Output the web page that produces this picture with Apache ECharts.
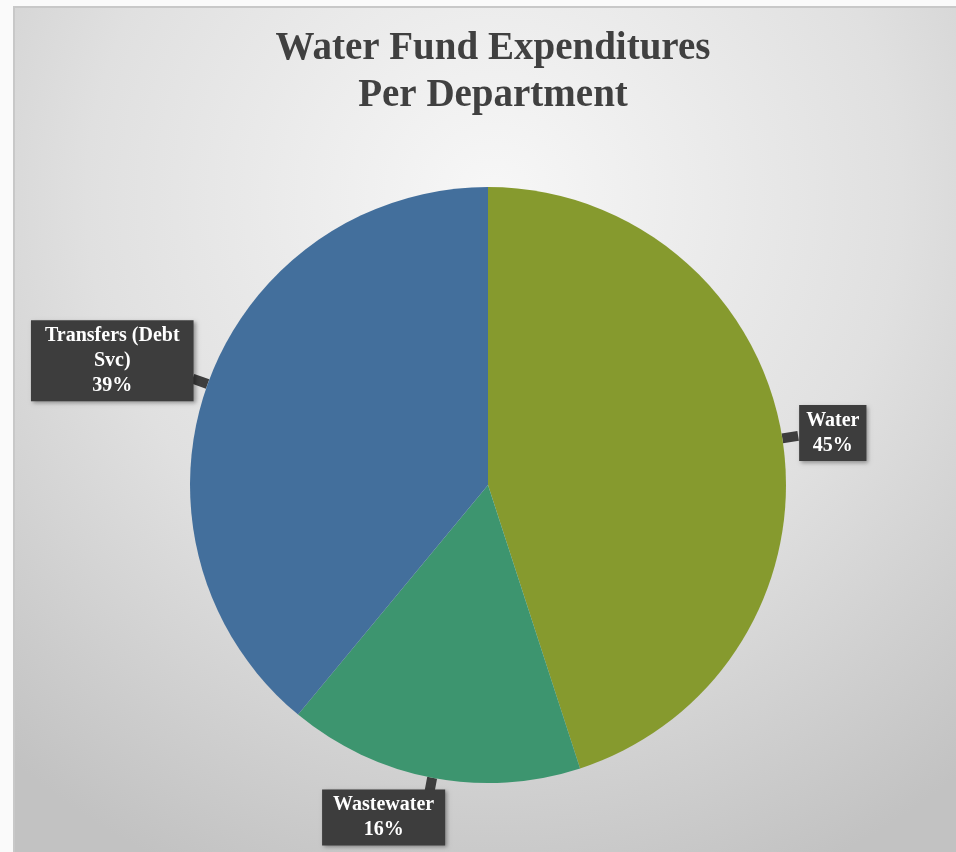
<!DOCTYPE html>
<html>
<head>
<meta charset="utf-8">
<script src="https://cdn.jsdelivr.net/npm/echarts@6/dist/echarts.min.js"></script>
<style>
  html, body { margin: 0; padding: 0; background: #fafafa; }
  #chart { width: 956px; height: 852px; }
</style>
</head>
<body>
<div id="chart"></div>
<script>
// Departments and their share of water fund spending (percent)
const departments = ['Water', 'Wastewater', 'Transfers (Debt Svc)'];
const shares = [45, 16, 39];
const sliceColors = ['#869a2e', '#3d956f', '#436f9c'];

const chart = echarts.init(document.getElementById('chart'), null, { renderer: 'canvas' });

const serif = '"Liberation Serif", "DejaVu Serif", serif';
const boxColor = '#3d3d3d';

// label box offsets and side padding per slice, so each callout sits next to its slice
const labelShift = [
  { dx: -4, dy: -3 },
  { dx: 21, dy: 24 },
  { dx: 6, dy: -18 }
];
const labelPadX = [7, 11, 14];

// wrap a department name into lines of at most maxLen characters
function wrapName(name, maxLen) {
  const words = name.split(' ');
  const lines = [];
  let cur = '';
  words.forEach(w => {
    const next = cur ? cur + ' ' + w : w;
    if (next.length > maxLen && cur) {
      lines.push(cur);
      cur = w;
    } else {
      cur = next;
    }
  });
  if (cur) lines.push(cur);
  return lines;
}

const option = {
  backgroundColor: '#fafafa',
  graphic: [{
    type: 'rect',
    z: -10,
    silent: true,
    shape: { x: 14, y: 7, width: 960, height: 870 },
    style: {
      fill: new echarts.graphic.RadialGradient(0.5, 0.22, 0.85, [
        { offset: 0, color: '#f7f7f7' },
        { offset: 0.55, color: '#e0e0e0' },
        { offset: 1, color: '#c2c2c2' }
      ]),
      stroke: '#c8c8c8',
      lineWidth: 2
    }
  }],
  title: {
    text: 'Water Fund Expenditures\nPer Department',
    left: 488,
    textAlign: 'center',
    top: 20,
    textStyle: {
      fontFamily: serif,
      fontWeight: 'bold',
      fontSize: 39,
      lineHeight: 47,
      color: '#404040'
    }
  },
  series: [{
    type: 'pie',
    center: [488, 485],
    radius: 298,
    startAngle: 90,
    clockwise: true,
    percentPrecision: 0,
    animation: false,
    data: departments.map((name, i) => ({
      name: name,
      value: shares[i],
      itemStyle: { color: sliceColors[i] },
      label: { padding: [3, labelPadX[i], 3, labelPadX[i]] }
    })),
    label: {
      show: true,
      position: 'outside',
      formatter: function (p) {
        const lines = wrapName(p.name, 16).map(l => '{t|' + l + '}');
        lines.push('{t|' + p.percent + '%}');
        return lines.join('\n');
      },
      rich: {
        t: {
          fontFamily: serif,
          fontWeight: 'bold',
          fontSize: 20,
          lineHeight: 25,
          color: '#ffffff',
          align: 'center'
        }
      },
      fontFamily: serif,
      fontWeight: 'bold',
      fontSize: 20,
      lineHeight: 25,
      color: '#ffffff',
      backgroundColor: boxColor,
      shadowColor: 'rgba(0,0,0,0.35)',
      shadowBlur: 4,
      shadowOffsetX: 2,
      shadowOffsetY: 2
    },
    labelLine: {
      show: true,
      length: 16,
      length2: 0,
      lineStyle: { color: boxColor, width: 10 }
    },
    labelLayout: function (params) {
      return labelShift[params.dataIndex];
    },
    emphasis: { disabled: true }
  }]
};

chart.setOption(option);
</script>
</body>
</html>
